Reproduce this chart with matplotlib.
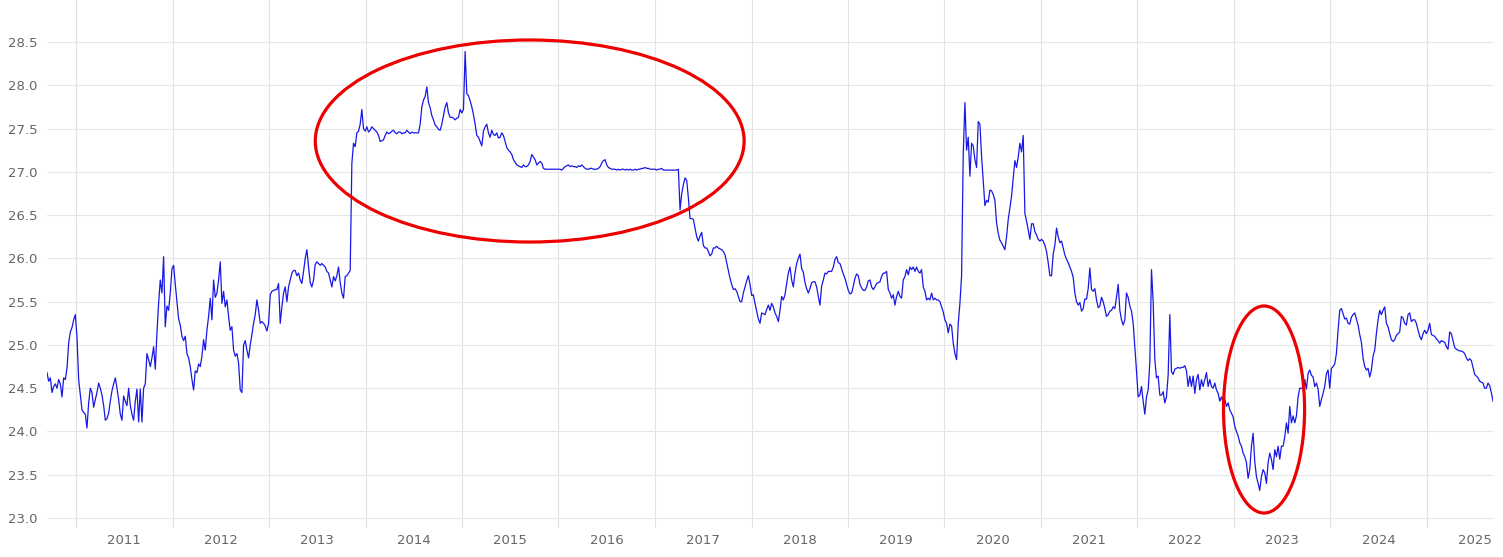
import pandas as pd
import matplotlib
matplotlib.use("Agg")
import matplotlib.pyplot as plt
import matplotlib.dates as mdates
from matplotlib.patches import Ellipse
from matplotlib.ticker import FixedLocator, FixedFormatter, NullFormatter, FuncFormatter

# ---------------- data (evenly spaced readings, ~6 days apart) ----------------
first_date = "2010-09-12"
last_date = "2025-09-09"

part_01 = [24.68, 24.58, 24.62, 24.45, 24.52, 24.55, 24.50, 24.60, 24.55, 24.40, 24.62, 24.60,
           24.73, 25.02, 25.15, 25.20, 25.29, 25.35, 25.09, 24.60, 24.42, 24.25, 24.22, 24.20,
           24.04, 24.33, 24.50, 24.45, 24.28, 24.37, 24.45, 24.56, 24.50, 24.42, 24.30, 24.13,
           24.15, 24.21, 24.35, 24.47, 24.55, 24.62, 24.50, 24.37, 24.20, 24.13, 24.41, 24.35,
           24.30, 24.50, 24.30, 24.20, 24.13, 24.35, 24.49, 24.11, 24.49, 24.11, 24.50, 24.55,
           24.90, 24.83, 24.75, 24.85, 24.98, 24.72, 25.14, 25.48, 25.75, 25.60, 26.02, 25.21]
part_02 = [25.45, 25.40, 25.60, 25.88, 25.92, 25.70, 25.50, 25.30, 25.23, 25.10, 25.05, 25.10,
           24.90, 24.85, 24.75, 24.60, 24.48, 24.70, 24.68, 24.78, 24.75, 24.87, 25.06, 24.94,
           25.17, 25.33, 25.54, 25.29, 25.75, 25.55, 25.60, 25.75, 25.96, 25.48, 25.62, 25.44,
           25.52, 25.33, 25.17, 25.21, 24.94, 24.87, 24.90, 24.79, 24.48, 24.45, 25.00, 25.05,
           24.94, 24.85, 25.00, 25.12, 25.25, 25.35, 25.52, 25.40, 25.25, 25.27, 25.25, 25.22,
           25.16, 25.25, 25.58, 25.62, 25.63, 25.64, 25.64, 25.71, 25.25, 25.44, 25.60, 25.67]
part_03 = [25.50, 25.67, 25.75, 25.83, 25.86, 25.86, 25.80, 25.83, 25.75, 25.71, 25.85, 26.00,
           26.10, 25.90, 25.72, 25.67, 25.75, 25.93, 25.96, 25.94, 25.92, 25.94, 25.92, 25.90,
           25.85, 25.83, 25.75, 25.67, 25.79, 25.74, 25.80, 25.90, 25.72, 25.60, 25.54, 25.79,
           25.80, 25.83, 25.86, 27.10, 27.33, 27.29, 27.45, 27.47, 27.55, 27.72, 27.50, 27.47,
           27.52, 27.46, 27.48, 27.52, 27.50, 27.48, 27.46, 27.42, 27.35, 27.36, 27.37, 27.42,
           27.46, 27.44, 27.45, 27.47, 27.48, 27.45, 27.44, 27.46, 27.46, 27.44, 27.45, 27.45]
part_04 = [27.48, 27.46, 27.44, 27.46, 27.45, 27.45, 27.45, 27.45, 27.55, 27.75, 27.83, 27.87,
           27.98, 27.80, 27.74, 27.65, 27.60, 27.54, 27.52, 27.49, 27.48, 27.55, 27.65, 27.75,
           27.80, 27.68, 27.63, 27.63, 27.62, 27.60, 27.62, 27.63, 27.72, 27.68, 27.72, 28.39,
           27.90, 27.88, 27.82, 27.75, 27.66, 27.55, 27.42, 27.40, 27.35, 27.30, 27.47, 27.52,
           27.55, 27.45, 27.40, 27.48, 27.43, 27.42, 27.45, 27.39, 27.40, 27.45, 27.42, 27.35,
           27.28, 27.25, 27.23, 27.20, 27.14, 27.11, 27.08, 27.07, 27.06, 27.05, 27.08, 27.06]
part_05 = [27.06, 27.08, 27.12, 27.20, 27.17, 27.14, 27.08, 27.10, 27.12, 27.10, 27.04, 27.03,
           27.03, 27.03, 27.03, 27.03, 27.03, 27.03, 27.03, 27.03, 27.03, 27.02, 27.04, 27.06,
           27.07, 27.08, 27.06, 27.07, 27.06, 27.06, 27.05, 27.07, 27.06, 27.08, 27.06, 27.04,
           27.03, 27.03, 27.04, 27.04, 27.03, 27.03, 27.03, 27.04, 27.06, 27.10, 27.13, 27.14,
           27.08, 27.05, 27.04, 27.03, 27.03, 27.03, 27.02, 27.03, 27.02, 27.03, 27.03, 27.02,
           27.03, 27.02, 27.03, 27.02, 27.02, 27.03, 27.02, 27.03, 27.03, 27.04, 27.04, 27.05]
part_06 = [27.04, 27.04, 27.03, 27.03, 27.03, 27.03, 27.02, 27.03, 27.03, 27.04, 27.02, 27.02,
           27.02, 27.02, 27.02, 27.02, 27.02, 27.02, 27.02, 27.03, 26.56, 26.75, 26.85, 26.93,
           26.90, 26.70, 26.46, 26.46, 26.45, 26.35, 26.25, 26.20, 26.26, 26.30, 26.15, 26.12,
           26.12, 26.08, 26.03, 26.05, 26.12, 26.12, 26.14, 26.12, 26.11, 26.10, 26.08, 26.04,
           25.95, 25.86, 25.77, 25.70, 25.64, 25.65, 25.62, 25.56, 25.50, 25.50, 25.60, 25.67,
           25.74, 25.80, 25.70, 25.57, 25.58, 25.48, 25.39, 25.30, 25.25, 25.37, 25.36, 25.35]
part_07 = [25.41, 25.46, 25.40, 25.48, 25.44, 25.37, 25.33, 25.27, 25.40, 25.56, 25.52, 25.58,
           25.71, 25.83, 25.90, 25.75, 25.67, 25.83, 25.94, 26.00, 26.05, 25.88, 25.84, 25.72,
           25.65, 25.60, 25.65, 25.72, 25.73, 25.73, 25.67, 25.56, 25.46, 25.68, 25.75, 25.83,
           25.82, 25.85, 25.85, 25.85, 25.90, 25.99, 26.02, 25.95, 25.94, 25.88, 25.82, 25.77,
           25.70, 25.63, 25.59, 25.60, 25.68, 25.77, 25.82, 25.80, 25.70, 25.66, 25.63, 25.63,
           25.67, 25.74, 25.75, 25.67, 25.64, 25.67, 25.71, 25.72, 25.73, 25.79, 25.83, 25.83]
part_08 = [25.85, 25.64, 25.60, 25.54, 25.58, 25.46, 25.56, 25.62, 25.56, 25.54, 25.75, 25.79,
           25.87, 25.81, 25.90, 25.87, 25.90, 25.85, 25.90, 25.85, 25.83, 25.87, 25.67, 25.62,
           25.52, 25.54, 25.52, 25.60, 25.52, 25.54, 25.52, 25.52, 25.50, 25.44, 25.38, 25.29,
           25.25, 25.14, 25.24, 25.22, 25.02, 24.90, 24.83, 25.25, 25.48, 25.80, 27.20, 27.80,
           27.25, 27.40, 26.95, 27.33, 27.30, 27.14, 27.05, 27.58, 27.55, 27.18, 26.90, 26.61,
           26.67, 26.65, 26.79, 26.78, 26.74, 26.67, 26.41, 26.29, 26.21, 26.18, 26.14, 26.10]
part_09 = [26.25, 26.45, 26.58, 26.72, 26.93, 27.13, 27.05, 27.17, 27.33, 27.23, 27.42, 26.52,
           26.43, 26.33, 26.22, 26.40, 26.40, 26.31, 26.27, 26.22, 26.20, 26.22, 26.20, 26.15,
           26.08, 25.95, 25.80, 25.80, 26.05, 26.15, 26.35, 26.25, 26.18, 26.20, 26.12, 26.04,
           25.99, 25.95, 25.90, 25.85, 25.78, 25.60, 25.50, 25.46, 25.49, 25.39, 25.42, 25.53,
           25.53, 25.65, 25.89, 25.64, 25.62, 25.65, 25.52, 25.43, 25.45, 25.55, 25.50, 25.42,
           25.33, 25.35, 25.39, 25.40, 25.44, 25.42, 25.55, 25.70, 25.40, 25.29, 25.23, 25.29]
part_10 = [25.60, 25.55, 25.45, 25.39, 25.25, 24.98, 24.70, 24.40, 24.42, 24.52, 24.35, 24.20,
           24.40, 24.48, 24.80, 25.87, 25.50, 24.83, 24.62, 24.64, 24.42, 24.42, 24.46, 24.33,
           24.40, 24.65, 25.35, 24.69, 24.66, 24.72, 24.73, 24.74, 24.73, 24.74, 24.74, 24.76,
           24.70, 24.52, 24.64, 24.52, 24.64, 24.44, 24.60, 24.66, 24.48, 24.60, 24.52, 24.60,
           24.68, 24.52, 24.60, 24.52, 24.50, 24.56, 24.48, 24.44, 24.35, 24.40, 24.33, 24.37,
           24.29, 24.33, 24.25, 24.21, 24.17, 24.06, 24.00, 23.95, 23.87, 23.83, 23.75, 23.71]
part_11 = [23.64, 23.46, 23.56, 23.83, 23.98, 23.65, 23.48, 23.40, 23.32, 23.48, 23.56, 23.52,
           23.40, 23.64, 23.75, 23.68, 23.56, 23.79, 23.71, 23.83, 23.68, 23.83, 23.83, 23.94,
           24.10, 23.98, 24.29, 24.10, 24.18, 24.10, 24.18, 24.40, 24.50, 24.50, 24.49, 24.60,
           24.49, 24.67, 24.71, 24.65, 24.63, 24.52, 24.56, 24.49, 24.29, 24.37, 24.44, 24.52,
           24.67, 24.71, 24.50, 24.73, 24.75, 24.78, 24.90, 25.17, 25.40, 25.42, 25.36, 25.30,
           25.31, 25.25, 25.24, 25.32, 25.35, 25.37, 25.30, 25.23, 25.12, 25.03, 24.85, 24.75]
part_12 = [24.71, 24.73, 24.63, 24.71, 24.87, 24.94, 25.13, 25.29, 25.40, 25.35, 25.40, 25.44,
           25.25, 25.21, 25.13, 25.06, 25.04, 25.06, 25.11, 25.13, 25.15, 25.33, 25.31, 25.25,
           25.23, 25.35, 25.37, 25.27, 25.29, 25.29, 25.25, 25.17, 25.10, 25.06, 25.13, 25.17,
           25.13, 25.17, 25.25, 25.12, 25.11, 25.10, 25.07, 25.05, 25.02, 25.05, 25.04, 25.03,
           24.98, 24.95, 25.15, 25.13, 25.05, 24.97, 24.95, 24.94, 24.93, 24.93, 24.92, 24.90,
           24.85, 24.82, 24.84, 24.82, 24.74, 24.66, 24.64, 24.62, 24.58, 24.57, 24.56, 24.50,
           24.50, 24.56, 24.53, 24.45, 24.35]

rates = (part_01 + part_02 + part_03 + part_04 + part_05 + part_06 +
         part_07 + part_08 + part_09 + part_10 + part_11 + part_12)
dates = pd.date_range(first_date, last_date, periods=len(rates))

years = list(range(2011, 2026))
year_labels = [str(y) for y in years]
year_starts = [pd.Timestamp(f"{y}-01-01") for y in years]
label_dates = [pd.Timestamp(f"{y}-07-02") for y in years]
y_ticks = [23.0, 23.5, 24.0, 24.5, 25.0, 25.5, 26.0, 26.5, 27.0, 27.5, 28.0, 28.5]

# highlight ellipses: (center date, center value, width in days, height in value units)
highlight_1 = ("2015-09-14", 27.356, 1624, 2.334)
highlight_2 = ("2023-04-26", 24.254, 307, 2.392)

# ---------------- figure ----------------
W, H = 1503, 557
fig = plt.figure(figsize=(W / 100, H / 100), dpi=100)
ax = fig.add_axes([47 / W, 1 - 528 / H, (1493 - 47) / W, 528 / H])

ax.plot(dates, rates, color="#1818e6", lw=0.9, zorder=3)

ax.set_xlim(dates[0], dates[-1])
ax.set_ylim(22.885, 28.985)

ax.yaxis.set_major_locator(FixedLocator(y_ticks))
ax.yaxis.set_major_formatter(FuncFormatter(lambda v, p: f"{v:.1f}"))

ax.xaxis.set_major_locator(FixedLocator(mdates.date2num(year_starts)))
ax.xaxis.set_major_formatter(NullFormatter())
ax.xaxis.set_minor_locator(FixedLocator(mdates.date2num(label_dates)))
ax.xaxis.set_minor_formatter(FixedFormatter(year_labels))

ax.grid(axis="x", which="major", color="#e2e2e2", lw=0.8)
ax.grid(axis="y", which="major", color="#e6e6e6", lw=0.8)
ax.set_axisbelow(True)

ax.tick_params(which="both", length=0)
ax.tick_params(axis="y", pad=7, labelsize=9.5, labelcolor="#666666")
ax.tick_params(axis="x", which="minor", pad=4, labelsize=9.5, labelcolor="#666666")
for s in ax.spines.values():
    s.set_visible(False)

for c_date, c_val, w_days, h_val in (highlight_1, highlight_2):
    e = Ellipse((mdates.date2num(pd.Timestamp(c_date)), c_val), width=w_days, height=h_val,
                fill=False, edgecolor="#ee0000", lw=2.3, zorder=4)
    ax.add_patch(e)

fig.savefig("out.png", dpi=100)
